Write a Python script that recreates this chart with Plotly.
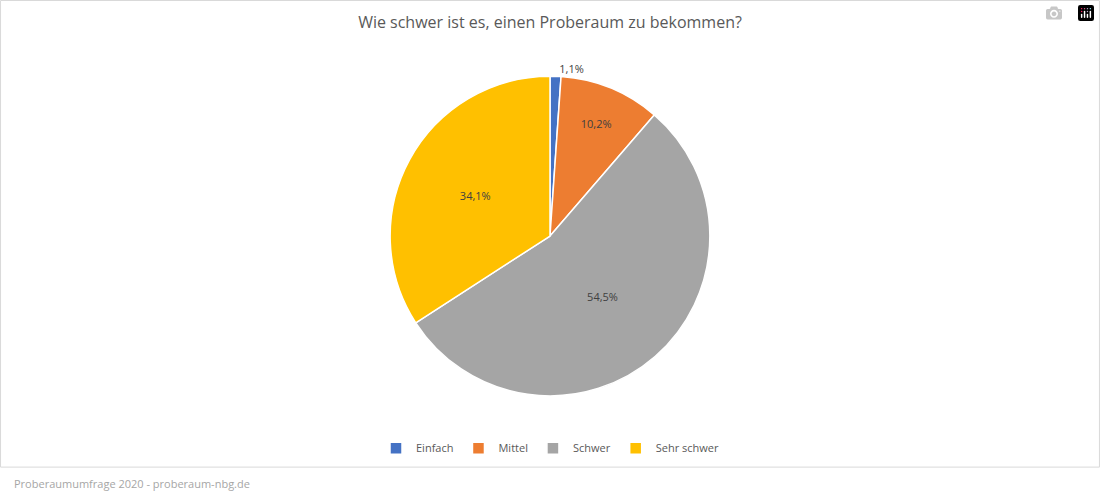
import plotly.graph_objects as go

categories = ["Einfach", "Mittel", "Schwer", "Sehr schwer"]
values = [1.1, 10.2, 54.5, 34.1]
value_labels = ["1,1%", "10,2%", "54,5%", "34,1%"]
colors = ["#4472C4", "#ED7D31", "#A5A5A5", "#FFC000"]

fig = go.Figure(go.Pie(
    labels=categories, values=values, sort=False, direction="clockwise", rotation=0,
    marker=dict(colors=colors, line=dict(color="white", width=1.5)),
    text=value_labels, texttemplate="%{text}", textposition=["outside", "inside", "inside", "inside"],
    insidetextorientation="horizontal",
    textfont=dict(size=11, color="#404040"), outsidetextfont=dict(size=11, color="#404040"),
    domain=dict(x=[0.3545, 0.6455], y=[0.205, 0.847]),
    hoverinfo="label+percent",
))
fig.update_layout(
    width=1100, height=498, separators=",.",
    margin=dict(l=0, r=0, t=0, b=0),
    paper_bgcolor="white", plot_bgcolor="white",
    font=dict(family="Open Sans", color="#595959"),
    title=dict(text="Wie schwer ist es, einen Proberaum zu bekommen?", x=0.5, xanchor="center",
               y=0.955, yanchor="middle", font=dict(size=16, color="#595959")),
    legend=dict(orientation="h", x=0.5, xanchor="center", y=0.1, yanchor="middle",
                font=dict(size=11, color="#595959"), itemwidth=30),
    shapes=[dict(type="rect", xref="paper", yref="paper", x0=0.0005, x1=0.9995, y0=0.062, y1=0.999,
                 line=dict(color="#D9D9D9", width=1))],
    annotations=[dict(text="Proberaumumfrage 2020 - proberaum-nbg.de", xref="paper", yref="paper",
                      x=0.011, y=0.03, xanchor="left", yanchor="middle", showarrow=False,
                      font=dict(size=11, color="#A6A6A6"))],
)
fig.write_html("out.html", post_script="document.body.style.margin='0';document.body.style.overflow='hidden';")
